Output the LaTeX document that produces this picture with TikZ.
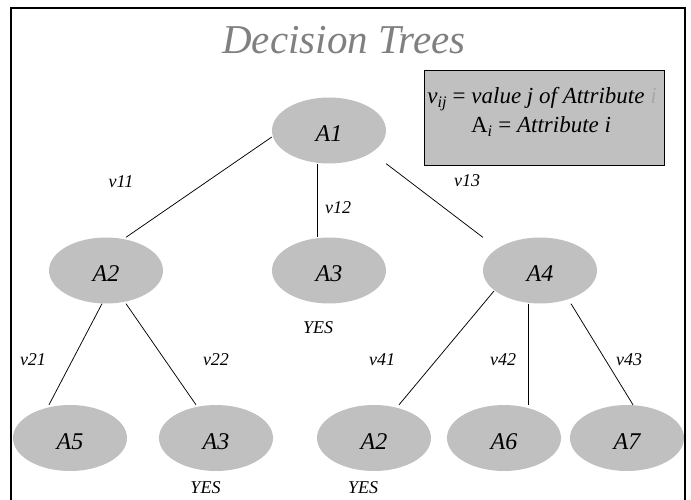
\documentclass[tikz,border=0pt]{standalone}
\usepackage{fontspec}
\setmainfont{Liberation Serif}
\usetikzlibrary{calc,shapes.geometric}
\definecolor{nodegray}{HTML}{C0C0C0}
\definecolor{titlegray}{HTML}{808080}
\definecolor{fadegray}{HTML}{A8A8A8}
\tikzset{
  attr/.style={shape=ellipse, fill=nodegray, draw=none, minimum width=114pt,
    minimum height=66pt, inner sep=0pt, font=\fontsize{24}{24}\selectfont\itshape,
    text height=22pt, text depth=0pt},
  vlabel/.style={font=\fontsize{18}{18}\selectfont\itshape, inner sep=0pt},
  edge/.style={draw=black, line width=0.75pt},
  legendtext/.style={font=\fontsize{23}{23}\selectfont, anchor=base, inner sep=0pt}
}
\begin{document}
\begin{tikzpicture}[x=1pt,y=-1pt]
\useasboundingbox (0,0) rectangle (691,500);
\clip (0,0) rectangle (691,500);
\fill[white] (0,0) rectangle (691,500);
\draw[line width=2pt] (11,8.5) rectangle (684.5,520);

\node[font=\fontsize{41}{41}\selectfont\itshape, text=titlegray, anchor=base, inner sep=0pt] (title) at (344,53.5) {Decision Trees};

\node[draw=black, line width=0.75pt, fill=nodegray, minimum width=240pt, minimum height=95pt, inner sep=0pt] (legend) at (544,117.5) {};
\node[legendtext] (leg1) at (542,104) {\textit{v}\textsubscript{\textit{ij}} = \textit{value j of Attribute} {\color{fadegray}\textit{i}}};
\node[legendtext] (leg2) at (541,133) {A\textsubscript{\textit{i}} = \textit{Attribute i}};

\node[attr] (A1) at (329,130.5) {A1};
\node[attr] (A2) at (106,270.5) {A2};
\node[attr] (A3) at (329,270.5) {A3};
\node[attr] (A4) at (540,270.5) {A4};
\node[attr] (A5) at (70,438) {A5};
\node[attr] (A3b) at (216,438) {A3};
\node[attr] (A2b) at (374,438) {A2};
\node[attr] (A6) at (504,438) {A6};
\node[attr] (A7) at (627,438) {A7};

\draw[edge] ($(A1.west)+(0,6.5)$) -- ($(A2.north)+(20,0)$);
\draw[edge] ($(A1.south)+(-12,0)$) -- ($(A3.north)+(-12,0)$);
\draw[edge] (A1.east |- A1.south) -- (A4.west |- A4.north);
\draw[edge] ($(A2.south)+(-4,0)$) -- ($(A5.north)+(-21,0)$);
\draw[edge] ($(A2.south)+(20,0)$) -- ($(A3b.north)+(-20,0)$);
\draw[edge] ($(A4.center)+(-46,20.5)$) -- ($(A2b.north)+(25,0)$);
\draw[edge] ($(A4.south)+(-12,0)$) -- ($(A6.north)+(24,0)$);
\draw[edge] ($(A4.south)+(31,0)$) -- ($(A7.north)+(6,0)$);

\node[vlabel] (v11) at (121,182) {v11};
\node[vlabel] (v12) at (338,208) {v12};
\node[vlabel] (v13) at (467,181) {v13};
\node[vlabel] (v21) at (33,360) {v21};
\node[vlabel] (v22) at (216,360) {v22};
\node[vlabel] (v41) at (382,360) {v41};
\node[vlabel] (v42) at (503,360) {v42};
\node[vlabel] (v43) at (629,360) {v43};

\node[vlabel] (yes1) at (318,328) {YES};
\node[vlabel] (yes2) at (205.5,488) {YES};
\node[vlabel] (yes3) at (363,488) {YES};
\end{tikzpicture}
\end{document}
